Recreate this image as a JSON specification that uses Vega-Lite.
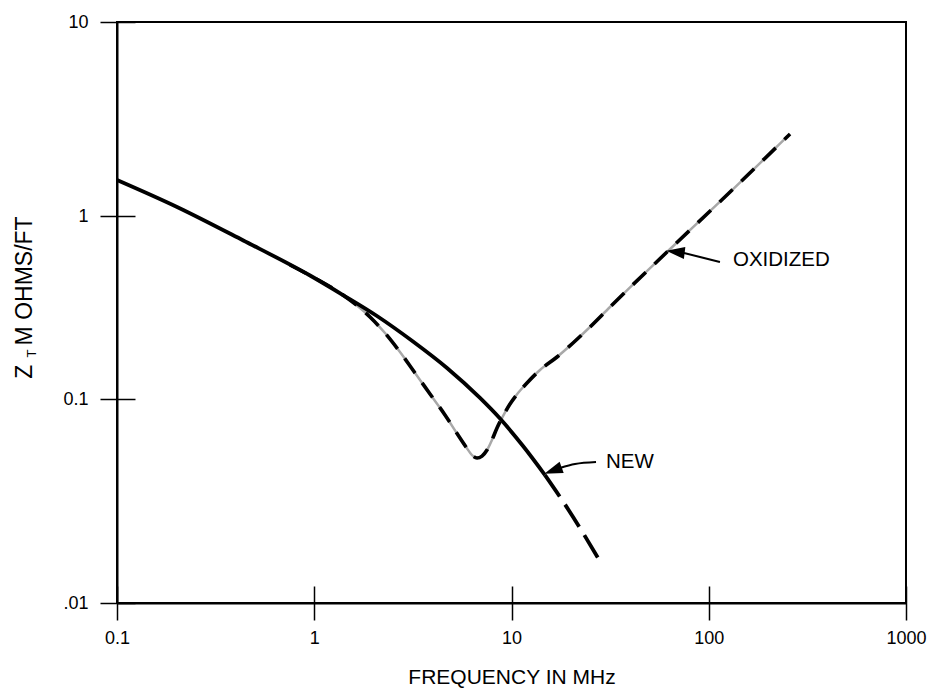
{
  "$schema": "https://vega.github.io/schema/vega-lite/v6.json",
  "width": 789,
  "height": 581,
  "autosize": "none",
  "padding": {"left": 117, "top": 22, "right": 21, "bottom": 89},
  "background": "white",
  "config": {
    "view": {"stroke": "black", "strokeWidth": 2},
    "font": "Liberation Sans",
    "axis": {
      "grid": false,
      "labelFont": "Liberation Sans",
      "titleFont": "Liberation Sans",
      "labelColor": "black",
      "titleColor": "black",
      "tickColor": "black",
      "domainColor": "black",
      "titleFontWeight": "normal",
      "labelFlush": false,
      "labelOverlap": false,
      "labelBound": false
    }
  },
  "datasets": {
    "new_solid": [
      {"f": 0.1, "z": 1.533},
      {"f": 0.2015, "z": 1.113},
      {"f": 0.4368, "z": 0.7347},
      {"f": 0.952, "z": 0.473},
      {"f": 1.399, "z": 0.370},
      {"f": 2.080, "z": 0.2842},
      {"f": 3.167, "z": 0.2061},
      {"f": 4.71, "z": 0.1477},
      {"f": 6.923, "z": 0.1013},
      {"f": 8.743, "z": 0.0802},
      {"f": 11.44, "z": 0.0588},
      {"f": 14.78, "z": 0.0424}
    ],
    "new_dash": [
      {"f": 14.78, "z": 0.0424},
      {"f": 17.62, "z": 0.0331},
      {"f": 22.25, "z": 0.0233},
      {"f": 27.45, "z": 0.01662}
    ],
    "oxidized": [
      {"f": 0.753, "z": 0.540},
      {"f": 0.952, "z": 0.473},
      {"f": 1.399, "z": 0.370},
      {"f": 1.917, "z": 0.2806},
      {"f": 2.284, "z": 0.2294},
      {"f": 2.721, "z": 0.1806},
      {"f": 3.243, "z": 0.1387},
      {"f": 3.863, "z": 0.1065},
      {"f": 4.601, "z": 0.0835},
      {"f": 5.356, "z": 0.0666},
      {"f": 5.879, "z": 0.0582},
      {"f": 6.305, "z": 0.0531},
      {"f": 6.686, "z": 0.0514},
      {"f": 7.087, "z": 0.0525},
      {"f": 7.512, "z": 0.0562},
      {"f": 7.962, "z": 0.0630},
      {"f": 8.443, "z": 0.0721},
      {"f": 9.056, "z": 0.0825},
      {"f": 9.827, "z": 0.0945},
      {"f": 10.79, "z": 0.1078},
      {"f": 11.98, "z": 0.1223},
      {"f": 13.95, "z": 0.1440},
      {"f": 17.01, "z": 0.1696},
      {"f": 20.5, "z": 0.2023},
      {"f": 25.0, "z": 0.2474},
      {"f": 31.58, "z": 0.3182},
      {"f": 61.42, "z": 0.6358},
      {"f": 128.2, "z": 1.329},
      {"f": 258.2, "z": 2.647}
    ],
    "arrows": [
      {"id": "new", "f": 26.82, "z": 0.0491},
      {"id": "new", "f": 20.99, "z": 0.0480},
      {"id": "new", "f": 17.62, "z": 0.0459},
      {"id": "ox", "f": 114.0, "z": 0.5606},
      {"id": "ox", "f": 90.3, "z": 0.597},
      {"id": "ox", "f": 74.9, "z": 0.628}
    ],
    "head_new": [{"f": 16.23, "z": 0.04462}],
    "head_ox": [{"f": 67.8, "z": 0.6364}],
    "labels": [
      {"label": "OXIDIZED", "f": 132.7, "z": 0.575},
      {"label": "NEW", "f": 30.15, "z": 0.0491}
    ]
  },
  "layer": [
    {
      "encoding": {
        "x": {
          "field": "f", "type": "quantitative",
          "scale": {"type": "log", "domain": [0.1, 1000], "range": [0, 789], "nice": false, "zero": false},
          "axis": {"values": [0.1, 1, 10, 100, 1000], "orient": "bottom", "tickSize": -17, "tickWidth": 1.5, "labels": false, "domain": false, "title": null}
        },
        "y": {
          "field": "z", "type": "quantitative",
          "scale": {"type": "log", "domain": [0.01, 0.1, 1, 10], "range": [581, 377, 194, 0], "nice": false, "zero": false},
          "axis": {"values": [0.01, 0.1, 1, 10], "orient": "left", "tickSize": -18, "tickWidth": 1.5, "labels": false, "domain": false, "title": "T", "titleFontSize": 13, "titleX": -82, "titleY": 331, "titleAlign": "center", "titleBaseline": "alphabetic", "titleAngle": -90}
        }
      },
      "layer": [
        {"data": {"name": "oxidized"}, "mark": {"type": "line", "interpolate": "monotone", "stroke": "#a8a8a8", "strokeWidth": 2.5}},
        {"data": {"name": "oxidized"}, "mark": {"type": "line", "interpolate": "monotone", "stroke": "black", "strokeWidth": 3.6, "strokeDash": [18, 12]}},
        {"data": {"name": "arrows"}, "mark": {"type": "line", "interpolate": "monotone", "stroke": "black", "strokeWidth": 2}, "encoding": {"detail": {"field": "id"}}},
        {"data": {"name": "head_new"}, "mark": {"type": "point", "shape": "M -1 0 L 1 -0.65 L 1 0.65 Z", "filled": true, "color": "black", "opacity": 1, "size": 340, "angle": -20}},
        {"data": {"name": "head_ox"}, "mark": {"type": "point", "shape": "M -1 0 L 1 -0.65 L 1 0.65 Z", "filled": true, "color": "black", "opacity": 1, "size": 340, "angle": 7}},
        {"data": {"name": "labels"}, "mark": {"type": "text", "align": "left", "baseline": "middle", "fontSize": 20.5, "font": "Liberation Sans", "color": "black"}, "encoding": {"text": {"field": "label"}}}
      ]
    },
    {
      "encoding": {
        "x": {
          "field": "f", "type": "quantitative",
          "scale": {"type": "log", "domain": [0.1, 1000], "range": [0, 789], "nice": false, "zero": false},
          "axis": {"values": [0.1, 1, 10, 100, 1000], "orient": "bottom", "tickSize": 17, "tickWidth": 1.5, "domainWidth": 2, "labelFontSize": 18, "labelPadding": 9, "labelExpr": "format(datum.value, '~g')", "title": "FREQUENCY IN MHz", "titleFontSize": 21, "titleY": 80, "titleBaseline": "alphabetic"}
        },
        "y": {
          "field": "z", "type": "quantitative",
          "scale": {"type": "log", "domain": [0.01, 0.1, 1, 10], "range": [581, 377, 194, 0], "nice": false, "zero": false},
          "axis": {"values": [0.01, 0.1, 1, 10], "orient": "left", "tickSize": 17, "tickWidth": 1.5, "domainWidth": 2, "labelFontSize": 18, "labelPadding": 12, "labelExpr": "datum.value < 0.05 ? '.01' : format(datum.value, '~g')", "title": "Z\u00a0\u00a0\u00a0M OHMS/FT", "titleFontSize": 23, "titleX": -86, "titleY": 275, "titleAlign": "center", "titleBaseline": "alphabetic", "titleAngle": -90}
        }
      },
      "layer": [
        {"data": {"name": "new_solid"}, "mark": {"type": "line", "interpolate": "monotone", "stroke": "black", "strokeWidth": 3.8}},
        {"data": {"name": "new_dash"}, "mark": {"type": "line", "interpolate": "monotone", "stroke": "black", "strokeWidth": 3.8, "strokeDash": [26, 10]}}
      ]
    }
  ],
  "resolve": {
    "scale": {"x": "independent", "y": "independent"},
    "axis": {"x": "independent", "y": "independent"}
  }
}
